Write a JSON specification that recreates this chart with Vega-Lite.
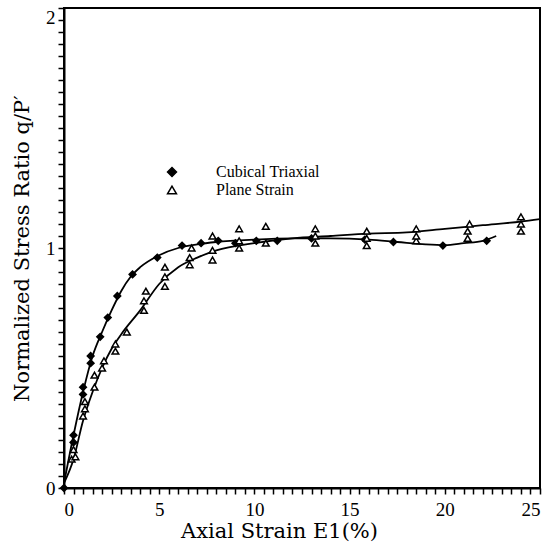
{
  "$schema": "https://vega.github.io/schema/vega-lite/v6.json",
  "width": 476,
  "height": 480,
  "autosize": {"type": "none"},
  "padding": {"left": 64, "top": 8, "right": 11, "bottom": 55},
  "background": "white",
  "config": {
    "view": {"stroke": "black", "strokeWidth": 2},
    "font": "Liberation Serif",
    "axis": {"grid": false, "domainColor": "black", "domainWidth": 2, "tickColor": "black", "tickWidth": 1.5, "labelColor": "black", "titleColor": "black", "labelFont": "Liberation Serif", "titleFont": "DejaVu Serif", "titleFontWeight": "normal"}
  },
  "datasets": {
    "curves": [
      {"series": "Cubical Triaxial", "strain": 0, "ratio": 0.02},
      {"series": "Cubical Triaxial", "strain": 0.5, "ratio": 0.22},
      {"series": "Cubical Triaxial", "strain": 1, "ratio": 0.40},
      {"series": "Cubical Triaxial", "strain": 1.5, "ratio": 0.55},
      {"series": "Cubical Triaxial", "strain": 2, "ratio": 0.65},
      {"series": "Cubical Triaxial", "strain": 2.5, "ratio": 0.74},
      {"series": "Cubical Triaxial", "strain": 3, "ratio": 0.82},
      {"series": "Cubical Triaxial", "strain": 3.5, "ratio": 0.88},
      {"series": "Cubical Triaxial", "strain": 4, "ratio": 0.92},
      {"series": "Cubical Triaxial", "strain": 5, "ratio": 0.97},
      {"series": "Cubical Triaxial", "strain": 6, "ratio": 1.0},
      {"series": "Cubical Triaxial", "strain": 7, "ratio": 1.015},
      {"series": "Cubical Triaxial", "strain": 8, "ratio": 1.025},
      {"series": "Cubical Triaxial", "strain": 10, "ratio": 1.035},
      {"series": "Cubical Triaxial", "strain": 12, "ratio": 1.04},
      {"series": "Cubical Triaxial", "strain": 14, "ratio": 1.04},
      {"series": "Cubical Triaxial", "strain": 16, "ratio": 1.035},
      {"series": "Cubical Triaxial", "strain": 17.5, "ratio": 1.025},
      {"series": "Cubical Triaxial", "strain": 19, "ratio": 1.015},
      {"series": "Cubical Triaxial", "strain": 20, "ratio": 1.012},
      {"series": "Cubical Triaxial", "strain": 21, "ratio": 1.02},
      {"series": "Cubical Triaxial", "strain": 22, "ratio": 1.03},
      {"series": "Cubical Triaxial", "strain": 22.7, "ratio": 1.05},
      {"series": "Plane Strain", "strain": 0, "ratio": 0.02},
      {"series": "Plane Strain", "strain": 0.5, "ratio": 0.12},
      {"series": "Plane Strain", "strain": 1, "ratio": 0.28},
      {"series": "Plane Strain", "strain": 1.5, "ratio": 0.40},
      {"series": "Plane Strain", "strain": 2, "ratio": 0.50},
      {"series": "Plane Strain", "strain": 2.5, "ratio": 0.58},
      {"series": "Plane Strain", "strain": 3, "ratio": 0.64},
      {"series": "Plane Strain", "strain": 4, "ratio": 0.74},
      {"series": "Plane Strain", "strain": 5, "ratio": 0.85},
      {"series": "Plane Strain", "strain": 6, "ratio": 0.92},
      {"series": "Plane Strain", "strain": 7, "ratio": 0.96},
      {"series": "Plane Strain", "strain": 8, "ratio": 0.99},
      {"series": "Plane Strain", "strain": 10, "ratio": 1.02},
      {"series": "Plane Strain", "strain": 12, "ratio": 1.04},
      {"series": "Plane Strain", "strain": 14, "ratio": 1.05},
      {"series": "Plane Strain", "strain": 16, "ratio": 1.06},
      {"series": "Plane Strain", "strain": 18, "ratio": 1.065},
      {"series": "Plane Strain", "strain": 20, "ratio": 1.08},
      {"series": "Plane Strain", "strain": 22, "ratio": 1.095},
      {"series": "Plane Strain", "strain": 24, "ratio": 1.11},
      {"series": "Plane Strain", "strain": 25, "ratio": 1.12}
    ],
    "points": [
      {"series": "Cubical Triaxial", "strain": 0, "ratio": 0.0},
      {"series": "Cubical Triaxial", "strain": 0.5, "ratio": 0.22},
      {"series": "Cubical Triaxial", "strain": 0.5, "ratio": 0.19},
      {"series": "Cubical Triaxial", "strain": 1.0, "ratio": 0.42},
      {"series": "Cubical Triaxial", "strain": 1.0, "ratio": 0.39},
      {"series": "Cubical Triaxial", "strain": 1.4, "ratio": 0.55},
      {"series": "Cubical Triaxial", "strain": 1.4, "ratio": 0.52},
      {"series": "Cubical Triaxial", "strain": 1.9, "ratio": 0.63},
      {"series": "Cubical Triaxial", "strain": 2.3, "ratio": 0.71},
      {"series": "Cubical Triaxial", "strain": 2.8, "ratio": 0.80},
      {"series": "Cubical Triaxial", "strain": 3.6, "ratio": 0.89},
      {"series": "Cubical Triaxial", "strain": 4.9, "ratio": 0.96},
      {"series": "Cubical Triaxial", "strain": 6.2, "ratio": 1.01},
      {"series": "Cubical Triaxial", "strain": 7.2, "ratio": 1.02},
      {"series": "Cubical Triaxial", "strain": 8.1, "ratio": 1.03},
      {"series": "Cubical Triaxial", "strain": 9.0, "ratio": 1.02},
      {"series": "Cubical Triaxial", "strain": 10.1, "ratio": 1.03},
      {"series": "Cubical Triaxial", "strain": 11.2, "ratio": 1.03},
      {"series": "Cubical Triaxial", "strain": 13.0, "ratio": 1.04},
      {"series": "Cubical Triaxial", "strain": 15.8, "ratio": 1.035},
      {"series": "Cubical Triaxial", "strain": 17.3, "ratio": 1.025},
      {"series": "Cubical Triaxial", "strain": 19.9, "ratio": 1.01},
      {"series": "Cubical Triaxial", "strain": 22.2, "ratio": 1.03},
      {"series": "Plane Strain", "strain": 0.4, "ratio": 0.12},
      {"series": "Plane Strain", "strain": 0.5, "ratio": 0.16},
      {"series": "Plane Strain", "strain": 0.6, "ratio": 0.13},
      {"series": "Plane Strain", "strain": 1.0, "ratio": 0.30},
      {"series": "Plane Strain", "strain": 1.1, "ratio": 0.33},
      {"series": "Plane Strain", "strain": 1.1, "ratio": 0.36},
      {"series": "Plane Strain", "strain": 1.6, "ratio": 0.42},
      {"series": "Plane Strain", "strain": 1.6, "ratio": 0.47},
      {"series": "Plane Strain", "strain": 2.0, "ratio": 0.50},
      {"series": "Plane Strain", "strain": 2.1, "ratio": 0.53},
      {"series": "Plane Strain", "strain": 2.7, "ratio": 0.60},
      {"series": "Plane Strain", "strain": 2.7, "ratio": 0.57},
      {"series": "Plane Strain", "strain": 3.3, "ratio": 0.65},
      {"series": "Plane Strain", "strain": 4.2, "ratio": 0.74},
      {"series": "Plane Strain", "strain": 4.2, "ratio": 0.78},
      {"series": "Plane Strain", "strain": 4.3, "ratio": 0.82},
      {"series": "Plane Strain", "strain": 5.3, "ratio": 0.84},
      {"series": "Plane Strain", "strain": 5.3, "ratio": 0.88},
      {"series": "Plane Strain", "strain": 5.3, "ratio": 0.92},
      {"series": "Plane Strain", "strain": 6.6, "ratio": 0.93},
      {"series": "Plane Strain", "strain": 6.6, "ratio": 0.96},
      {"series": "Plane Strain", "strain": 6.7, "ratio": 1.00},
      {"series": "Plane Strain", "strain": 7.8, "ratio": 0.95},
      {"series": "Plane Strain", "strain": 7.8, "ratio": 0.99},
      {"series": "Plane Strain", "strain": 7.8, "ratio": 1.05},
      {"series": "Plane Strain", "strain": 9.2, "ratio": 1.00},
      {"series": "Plane Strain", "strain": 9.2, "ratio": 1.03},
      {"series": "Plane Strain", "strain": 9.2, "ratio": 1.08},
      {"series": "Plane Strain", "strain": 10.6, "ratio": 1.02},
      {"series": "Plane Strain", "strain": 10.6, "ratio": 1.09},
      {"series": "Plane Strain", "strain": 13.2, "ratio": 1.02},
      {"series": "Plane Strain", "strain": 13.2, "ratio": 1.05},
      {"series": "Plane Strain", "strain": 13.2, "ratio": 1.08},
      {"series": "Plane Strain", "strain": 15.9, "ratio": 1.01},
      {"series": "Plane Strain", "strain": 15.9, "ratio": 1.04},
      {"series": "Plane Strain", "strain": 15.9, "ratio": 1.07},
      {"series": "Plane Strain", "strain": 18.5, "ratio": 1.03},
      {"series": "Plane Strain", "strain": 18.5, "ratio": 1.05},
      {"series": "Plane Strain", "strain": 18.5, "ratio": 1.08},
      {"series": "Plane Strain", "strain": 21.2, "ratio": 1.04},
      {"series": "Plane Strain", "strain": 21.2, "ratio": 1.07},
      {"series": "Plane Strain", "strain": 21.3, "ratio": 1.10},
      {"series": "Plane Strain", "strain": 24.0, "ratio": 1.07},
      {"series": "Plane Strain", "strain": 24.0, "ratio": 1.10},
      {"series": "Plane Strain", "strain": 24.0, "ratio": 1.13}
    ]
  },
  "encoding": {
    "x": {
      "field": "strain", "type": "quantitative",
      "scale": {"domain": [0, 25], "nice": false, "zero": false},
      "axis": {
        "title": "Axial Strain E1(%)",
        "titleFontSize": 21, "titlePadding": 1, "titleX": 215,
        "labelFontSize": 19, "labelPadding": 6, "tickSize": 6,
        "values": [0,0.5,1,1.5,2,2.5,3,3.5,4,4.5,5,5.5,6,6.5,7,7.5,8,8.5,9,9.5,10,10.5,11,11.5,12,12.5,13,13.5,14,14.5,15,15.5,16,16.5,17,17.5,18,18.5,19,19.5,20,20.5,21,21.5,22,22.5,23,23.5,24,24.5,25],
        "labelExpr": "datum.value % 5 == 0 ? format(datum.value, 'd') : ''",
        "labelOverlap": false
      }
    },
    "y": {
      "field": "ratio", "type": "quantitative",
      "scale": {"domain": [0, 2], "nice": false},
      "axis": {
        "title": "Normalized Stress Ratio q/P′",
        "titleFontSize": 21, "titlePadding": 13,
        "labelFontSize": 19, "labelPadding": 3, "tickSize": 6,
        "labelBaseline": {"condition": {"test": "datum.value == 2", "value": "top"}, "value": "middle"},
        "values": [0,0.05,0.1,0.15,0.2,0.25,0.3,0.35,0.4,0.45,0.5,0.55,0.6,0.65,0.7,0.75,0.8,0.85,0.9,0.95,1,1.05,1.1,1.15,1.2,1.25,1.3,1.35,1.4,1.45,1.5,1.55,1.6,1.65,1.7,1.75,1.8,1.85,1.9,1.95,2],
        "labelExpr": "datum.value % 1 == 0 ? format(datum.value, 'd') : ''",
        "labelOverlap": false
      }
    }
  },
  "layer": [
    {
      "data": {"name": "curves"},
      "mark": {"type": "line", "interpolate": "monotone", "color": "black", "strokeWidth": 1.8},
      "encoding": {"detail": {"field": "series"}}
    },
    {
      "data": {"name": "points"},
      "mark": {"type": "point", "filled": true, "stroke": "black", "strokeWidth": 1.5, "size": 45, "opacity": 1},
      "encoding": {
        "shape": {
          "field": "series", "type": "nominal",
          "scale": {"domain": ["Cubical Triaxial", "Plane Strain"], "range": ["diamond", "triangle-up"]},
          "legend": {"title": null, "orient": "none", "legendX": 100, "legendY": 156, "labelFontSize": 16, "labelFont": "Liberation Serif", "labelColor": "black", "labelOffset": 36, "symbolSize": 80, "symbolStrokeWidth": 1.5, "rowPadding": 2}
        },
        "fill": {
          "field": "series", "type": "nominal",
          "scale": {"domain": ["Cubical Triaxial", "Plane Strain"], "range": ["black", "white"]},
          "legend": {"title": null, "orient": "none", "legendX": 100, "legendY": 156, "labelFontSize": 16, "labelFont": "Liberation Serif", "labelColor": "black", "labelOffset": 36, "symbolSize": 80, "symbolStrokeWidth": 1.5, "rowPadding": 2}
        }
      }
    }
  ]
}
